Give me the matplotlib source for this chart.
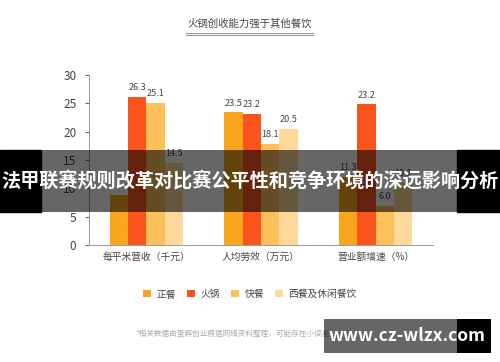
import numpy as np
import matplotlib
matplotlib.use('Agg')
from matplotlib import pyplot as plt
from matplotlib.patches import Rectangle

plt.rcParams['font.family'] = ['Noto Sans CJK SC', 'DejaVu Sans']

# données
categories = ["每平米营收（千元）", "人均劳效（万元）", "营业额增速（%）"]
series = ["正餐", "火锅", "快餐", "西餐及休闲餐饮"]
zhengcan = [8.8, 23.4, 12.0]
huoguo = [26.2, 23.2, 24.8]
kuaican = [25.0, 17.9, 6.9]
xican = [14.5, 20.5, 10.9]
# étiquettes affichées (pas toujours égales à la hauteur des barres)
lab_zhengcan = ["", "23.5", "11.3"]
lab_huoguo = ["26.3", "23.2", "23.2"]
lab_kuaican = ["25.1", "18.1", "6.0"]
lab_xican = ["14.5", "20.5", "10.1"]
colors = ["#F9A61C", "#FA541C", "#FDBF5A", "#FED99B"]

W, H = 500, 362
fig = plt.figure(figsize=(5, 3.62), dpi=100)
ax = fig.add_axes([89 / W, 1 - 245 / H, 344 / W, 170 / H])

x = np.arange(len(categories))
width = 0.16
values = [zhengcan, huoguo, kuaican, xican]
labels = [lab_zhengcan, lab_huoguo, lab_kuaican, lab_xican]
for i, (vals, labs) in enumerate(zip(values, labels)):
    pos = x + (i - 1.5) * width
    ax.bar(pos, vals, width, color=colors[i], label=series[i])
    for p, v, l in zip(pos, vals, labs):
        if l:
            ax.annotate(l, (p, v), xytext=(0, 3.5), textcoords="offset points",
                        ha="center", va="bottom", fontsize=6.5, color="#444444")

ax.set_xlim(-0.5, 2.5)
ax.set_ylim(0, 30)
ax.set_yticks(range(0, 31, 5))
ax.set_xticks(x)
ax.set_xticklabels(categories, fontsize=7, color="#444444")
ax.tick_params(axis="x", length=0, pad=5)
ax.tick_params(axis="y", labelsize=8.5, colors="#444444", length=3, width=0.6, pad=6)
for s in ["top", "right"]:
    ax.spines[s].set_visible(False)
for s in ["left", "bottom"]:
    ax.spines[s].set_color("#999999")
    ax.spines[s].set_linewidth(0.7)

# titre souligné
fig.text(0.5, 1 - 24 / H, "火锅创收能力强于其他餐饮", ha="center", va="center",
         fontsize=7.5, color="#444444")
fig.add_artist(plt.Line2D([186 / W, 313 / W], [1 - 32.5 / H] * 2, color="#999999", lw=0.8))
fig.add_artist(plt.Line2D([186 / W, 313 / W], [1 - 34.5 / H] * 2, color="#999999", lw=0.8))

# légende
handles, labs = ax.get_legend_handles_labels()
fig.legend(handles, labs, loc="center", bbox_to_anchor=(250 / W, 1 - 294 / H), ncol=4,
           frameon=False, fontsize=7, handlelength=0.8, handleheight=0.8,
           columnspacing=1.1, handletextpad=0.6, labelcolor="#444444")

# note
fig.text(135 / W, 1 - 334 / H, "*相关数据由蛋解创业根据网络资料整理，可能存在小误差",
         ha="left", va="center", fontsize=5.5, color="#aaaaaa")

# bandeau du titre
fig.add_artist(Rectangle((0, 1 - 212 / H), 41 / W, 62 / H, transform=fig.transFigure,
                         color="black", zorder=10))
fig.add_artist(Rectangle((457 / W, 1 - 212 / H), 43 / W, 62 / H, transform=fig.transFigure,
                         color="black", zorder=10))
fig.add_artist(Rectangle((41 / W, 1 - 212 / H), 416 / W, 62 / H, transform=fig.transFigure,
                         color="black", alpha=0.6, lw=0, zorder=10))
fig.text(0.5, 1 - 181 / H, "法甲联赛规则改革对比赛公平性和竞争环境的深远影响分析",
         ha="center", va="center", fontsize=13.8, color="white", fontweight="bold", zorder=11)

# filigrane
fig.add_artist(Rectangle((324 / W, 1 - 353 / H), 133 / W, 34 / H, transform=fig.transFigure,
                         color="black", alpha=0.6, lw=0, zorder=10))
fig.add_artist(Rectangle((457 / W, 1 - 353 / H), 34 / W, 34 / H, transform=fig.transFigure,
                         color="black", lw=0, zorder=10))
fig.text(407 / W, 1 - 336 / H, "www.cz-wlzx.com", ha="center", va="center",
         fontsize=12.5, color="white", fontweight="bold", zorder=11)

fig.savefig("out.png", dpi=100)
